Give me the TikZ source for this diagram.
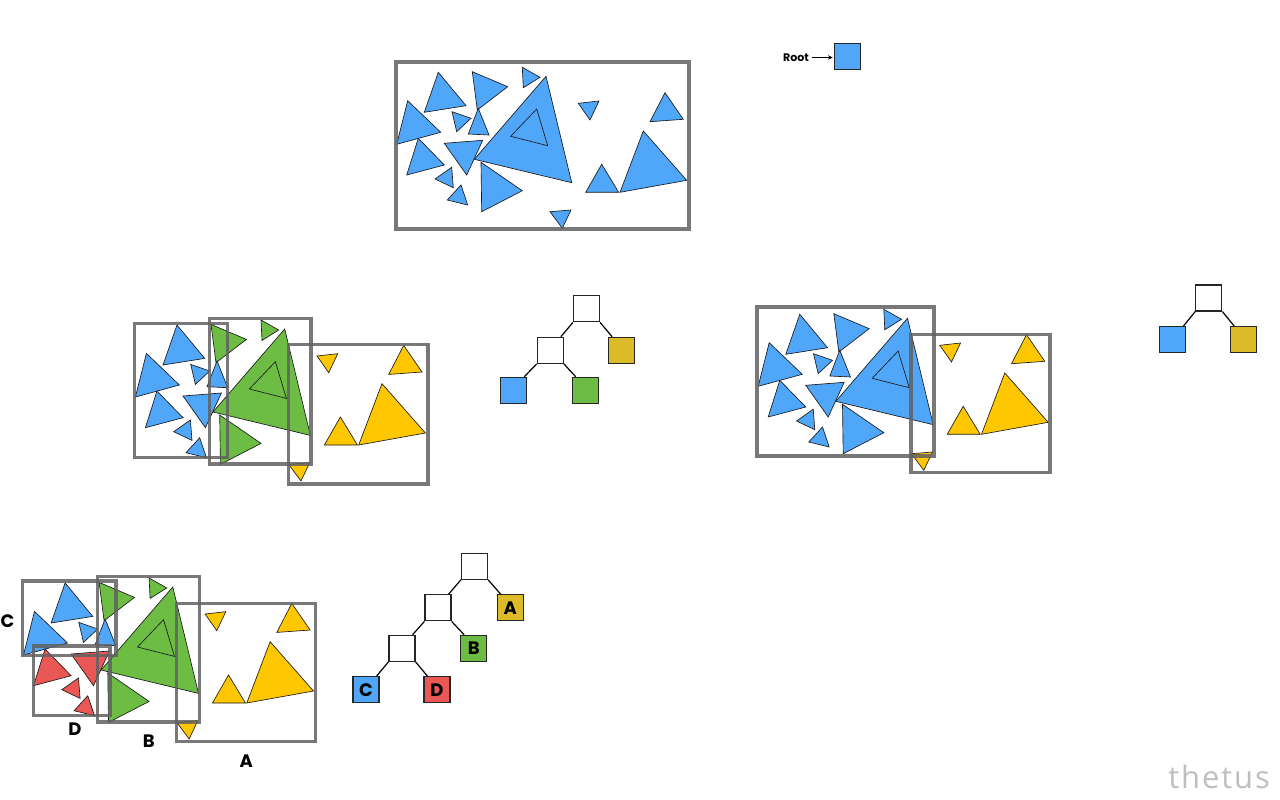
\documentclass[tikz,border=0pt]{standalone}
\usepackage{fontspec}
\newfontfamily\labfont{Poppins}
\newfontfamily\wmfont{Open Sans}[LetterSpace=6]
\usetikzlibrary{arrows.meta}
\definecolor{tblue}{RGB}{80,167,249}
\definecolor{tgreen}{RGB}{109,189,69}
\definecolor{tyellow}{RGB}{255,199,0}
\definecolor{tred}{RGB}{234,88,86}
\definecolor{kyellow}{RGB}{219,188,40}
\colorlet{gA}{tblue}\colorlet{gB}{tblue}\colorlet{gC}{tblue}\colorlet{gD}{tblue}
\newcommand\tri[2]{\filldraw[tri,fill=#1] #2 -- cycle;}
\newcommand\drawscene{%
 \tri{gC}{(438.3,72.3) -- (424.3,112.3) -- (466,105.7)}
 \tri{gB}{(472.3,71.7) -- (477.3,110) -- (507.7,86.7)}
 \tri{gB}{(522.3,67.3) -- (523.3,87.7) -- (540,77.3)}
 \tri{gA}{(578.3,103.3) -- (599,101) -- (590,120)}
 \tri{gA}{(665,92.7) -- (650,121.7) -- (683.3,119.3)}
 \tri{gC}{(407.7,100.7) -- (396.7,144.3) -- (440.7,132.3)}
 \tri{gC}{(452,111.7) -- (456.7,131.7) -- (471,118.3)}
 \tri{gC}{(478.3,108.3) -- (468.3,134) -- (489,135)}
 \tri{gD}{(444.3,143.3) -- (482.7,140.3) -- (466.7,175)}
 \tri{gD}{(418.3,138.3) -- (406.7,175) -- (444.3,165)}
 \tri{gD}{(451.7,167.3) -- (435,179) -- (453.3,187.7)}
 \tri{gD}{(461,185) -- (447.3,200) -- (467.7,205)}
 \tri{gB}{(546,76.3) -- (474.3,159.3) -- (571.7,182.7)}
 \draw[tri] (536.7,109) -- (510.7,136.3) -- (547.7,145.7) -- cycle;
 \tri{gB}{(481,162.3) -- (481.7,211.7) -- (522.3,190.7)}
 \tri{gA}{(550,211.7) -- (571,210) -- (562.3,228.3)}
 \tri{gA}{(601.7,164.3) -- (585.7,192.3) -- (618.7,192.3)}
 \tri{gA}{(643.3,131) -- (620,192.3) -- (686.7,180.3)}
}
\tikzset{
 tri/.style={draw=black!90, line width=0.65pt, line join=miter},
 frame/.style={draw=black!62, draw opacity=0.85, line width=3.4pt},
 kbox/.style={draw=black!85, line width=1.2pt, minimum size=26pt, inner sep=0pt, fill=white,
   font=\labfont\bfseries\fontsize{18}{18}\selectfont},
 edge/.style={draw=black, line width=1.2pt},
 lab/.style={font=\labfont\bfseries\fontsize{18}{18}\selectfont, inner sep=0pt}
}
\begin{document}
\begin{tikzpicture}[x=1pt,y=-1pt]
\useasboundingbox[fill=white] (0,0) rectangle (1280,800);

% ---- top scene
\begin{scope}
 \drawscene
\end{scope}
\draw[frame] (396,62) rectangle (689,229);

% root legend
\node[kbox, fill=tblue] (rootbox) at (847.2,56.2) {};
\node[font=\labfont\bfseries\fontsize{11}{11}\selectfont, inner sep=1pt] (roottxt) at (796,57.5) {Root};
\draw[line width=0.9pt, -{Stealth[length=4.5pt,width=4.5pt]}] ([xshift=2pt]roottxt.east) -- ([xshift=-1pt]roottxt.east -| rootbox.west);

% ---- middle-left scene
\begin{scope}[shift={(-261.3,252.7)}]
 \colorlet{gA}{tyellow}\colorlet{gB}{tgreen}\colorlet{gC}{tblue}\colorlet{gD}{tblue}
 \drawscene
\end{scope}
\draw[frame] (134.5,323.5) rectangle (227.5,457.5);
\draw[frame] (209.5,318.5) rectangle (311,464);
\draw[frame] (288.5,344.5) rectangle (428,484);

% tree 1
\node[kbox] (t1r) at (586.5,308.8) {};
\node[kbox] (t1m) at (550.3,350.3) {};
\node[kbox, fill=kyellow] (t1y) at (621.7,350.3) {};
\node[kbox, fill=tblue] (t1b) at (513.7,390.3) {};
\node[kbox, fill=tgreen] (t1g) at (585.3,390.3) {};
\draw[edge] (t1r.south west) -- ([xshift=-3pt]t1m.north east);
\draw[edge] (t1r.south east) -- ([xshift=4pt]t1y.north west);
\draw[edge] (t1m.south west) -- ([xshift=-3pt]t1b.north east);
\draw[edge] (t1m.south east) -- ([xshift=4pt]t1g.north west);

% ---- middle-right scene
\begin{scope}[shift={(361.5,242)}]
 \colorlet{gA}{tyellow}\colorlet{gB}{tblue}\colorlet{gC}{tblue}\colorlet{gD}{tblue}
 \drawscene
\end{scope}
\draw[frame] (757,307) rectangle (934,456);
\draw[frame] (911,334.5) rectangle (1050,472.5);

% tree 2
\node[kbox] (t2r) at (1208.8,298) {};
\node[kbox, fill=tblue] (t2b) at (1172.8,339.7) {};
\node[kbox, fill=kyellow] (t2y) at (1243.8,339.7) {};
\draw[edge] (t2r.south west) -- ([xshift=-3pt]t2b.north east);
\draw[edge] (t2r.south east) -- ([xshift=4pt]t2y.north west);

% ---- bottom-left scene
\begin{scope}[shift={(-373.2,510.7)}]
 \colorlet{gA}{tyellow}\colorlet{gB}{tgreen}\colorlet{gC}{tblue}\colorlet{gD}{tred}
 \drawscene
\end{scope}
\draw[frame] (22.5,581) rectangle (116,655.5);
\draw[frame] (33.5,646) rectangle (110,715.5);
\draw[frame] (97.5,576.5) rectangle (199.5,722);
\draw[frame] (176.5,603.5) rectangle (315.5,741.5);
\node[lab] (labC) at (7.5,621) {C};
\node[lab] (labD) at (75,729) {D};
\node[lab] (labB) at (148.7,741) {B};
\node[lab] (labA) at (246.3,761) {A};

% tree 3
\node[kbox] (t3r) at (474.5,566.2) {};
\node[kbox] (t3m) at (438,607.8) {};
\node[kbox, fill=kyellow] (t3a) at (510.3,607.8) {A};
\node[kbox] (t3n) at (402,648.3) {};
\node[kbox, fill=tgreen] (t3b) at (473.7,648.3) {B};
\node[kbox, fill=tblue] (t3c) at (366,689.7) {C};
\node[kbox, fill=tred] (t3d) at (437,689.7) {D};
\draw[edge] (t3r.south west) -- ([xshift=-3pt]t3m.north east);
\draw[edge] (t3r.south east) -- ([xshift=4pt]t3a.north west);
\draw[edge] (t3m.south west) -- ([xshift=-3pt]t3n.north east);
\draw[edge] (t3m.south east) -- ([xshift=4pt]t3b.north west);
\draw[edge] (t3n.south west) -- ([xshift=-3pt]t3c.north east);
\draw[edge] (t3n.south east) -- ([xshift=4pt]t3d.north west);

% watermark
\node[font=\wmfont\fontsize{31}{31}\selectfont, text=black!25, anchor=base east, inner sep=0pt] (wm) at (1270,788) {thetus};
\end{tikzpicture}
\end{document}
